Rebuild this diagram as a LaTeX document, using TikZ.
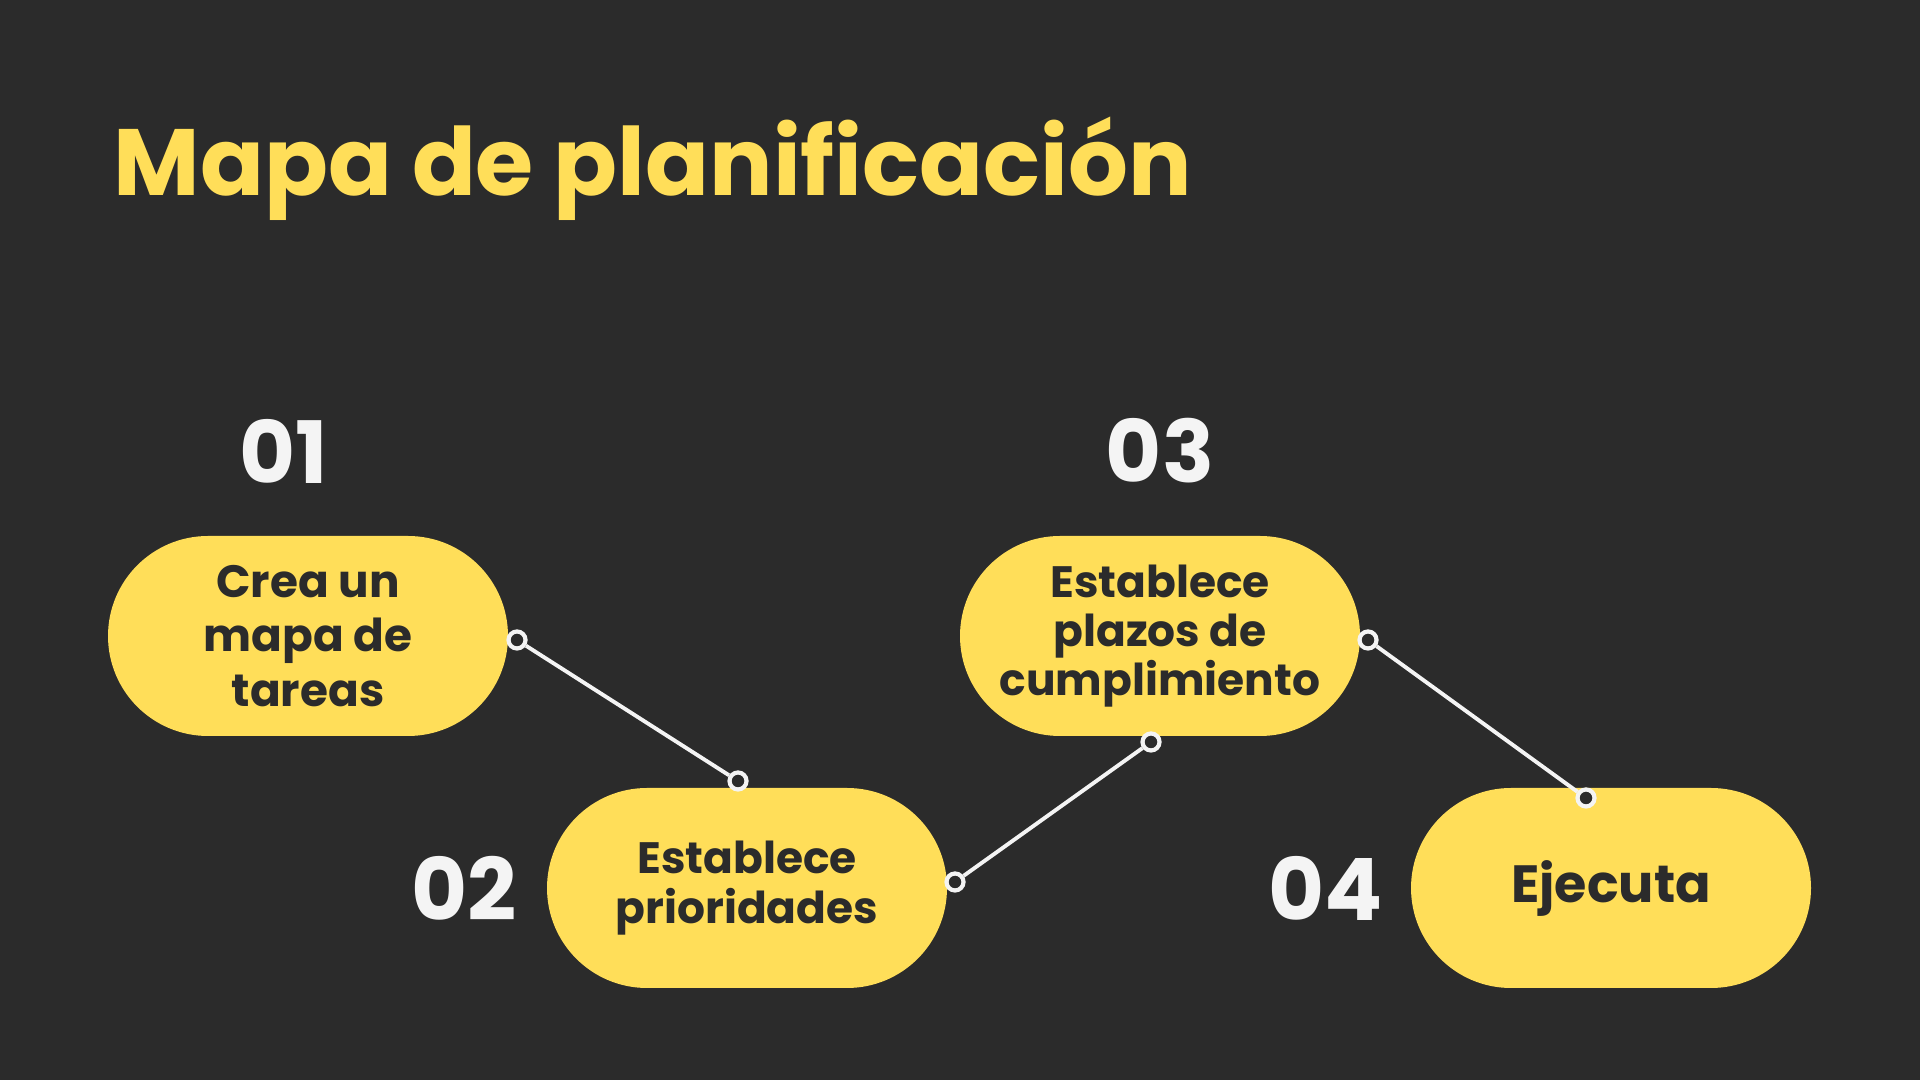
\documentclass[tikz,border=0pt]{standalone}
\usepackage{fontspec}
\setmainfont{Poppins}
\usetikzlibrary{shapes.misc}
\definecolor{bgdark}{HTML}{2B2B2B}
\definecolor{sun}{HTML}{FFDE59}
\definecolor{chalk}{HTML}{F4F4F4}
\begin{document}
\begin{tikzpicture}[
  pill/.style={rounded rectangle, fill=sun, text=bgdark, minimum width=4cm,
               minimum height=2cm, inner sep=0pt, align=center,
               font=\bfseries\fontsize{12.5}{14}\selectfont},
  num/.style={text=chalk, inner sep=0pt, font=\bfseries\fontsize{24.5}{26}\selectfont},
  dot/.style={circle, draw=chalk, fill=bgdark, line width=1.2pt,
              minimum size=0.17cm, inner sep=0pt},
  link/.style={draw=chalk, line width=1.1pt}
]
% ---------------- background and title ----------------
\fill[bgdark] (0,0) rectangle (19.2,10.8);
\useasboundingbox (0,0) rectangle (19.2,10.8);
\node[anchor=base west, inner sep=0pt, text=sun,
      font=\bfseries\fontsize{26.8}{30}\selectfont] (title) at (1.13,8.84) {Mapa de planificación};
% ---------------- steps ----------------
\node[pill, font=\bfseries\fontsize{12.9}{15.4}\selectfont] (p1) at (3.08,4.44) {Crea un\\mapa de\\tareas};
\node[pill] (p2) at (7.47,1.92) {Establece\\prioridades};
\node[pill] (p3) at (11.60,4.44) {Establece\\plazos de\\cumplimiento};
\node[pill, font=\bfseries\fontsize{14.9}{17}\selectfont] (p4) at (16.11,1.92) {Ejecuta};
\node[num] (n1) at (2.84,6.29) {01};
\node[num] (n2) at (4.64,1.92) {02};
\node[num] (n3) at (11.60,6.29) {03};
\node[num] (n4) at (13.26,1.92) {04};
% ---------------- connectors ----------------
\node[dot] (d1a) at (5.17,4.40) {};
\node[dot] (d1b) at (7.38,2.99) {};
\node[dot] (d2a) at (9.55,1.98) {};
\node[dot] (d2b) at (11.51,3.38) {};
\node[dot] (d3a) at (13.68,4.40) {};
\node[dot] (d3b) at (15.86,2.82) {};
\draw[link] (d1a) -- (d1b);
\draw[link] (d2a) -- (d2b);
\draw[link] (d3a) -- (d3b);
\end{tikzpicture}
\end{document}
